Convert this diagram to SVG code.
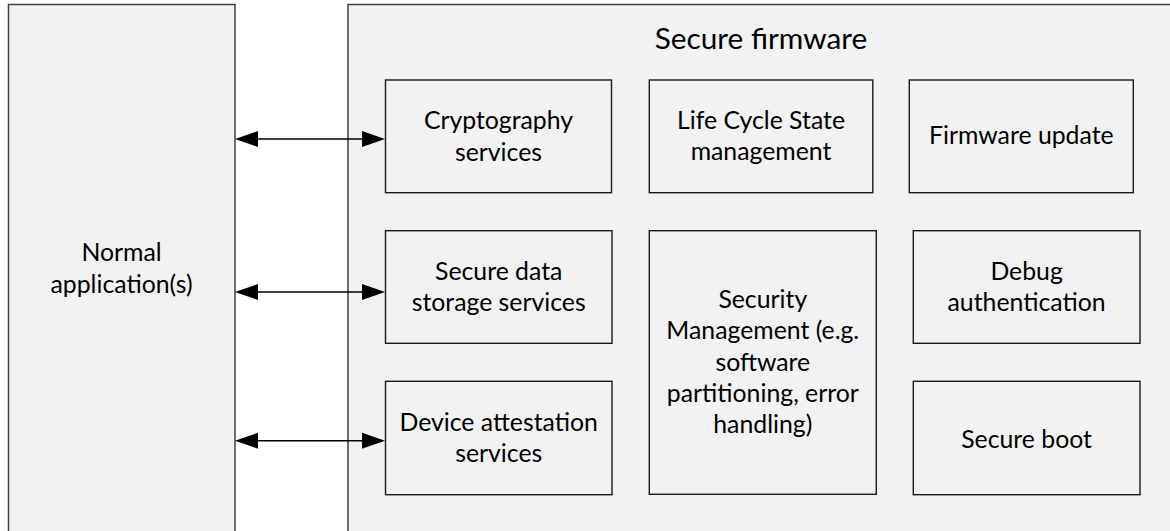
<svg xmlns="http://www.w3.org/2000/svg" width="1170" height="531" viewBox="0 0 1170 531">
  <style>
    .outer { fill: #f2f2f2; stroke: #404040; stroke-width: 1.5; }
    .box { fill: #f2f2f2; stroke: #1a1a1a; stroke-width: 1.4; }
    .label { font-family: Lato, "Liberation Sans", sans-serif; font-size: 24.8px; fill: #000; text-anchor: middle; }
    .title { font-size: 29.8px; }
    .link { stroke: #000; stroke-width: 1.5; fill: none; marker-start: url(#head); marker-end: url(#head); }
  </style>
  <defs>
    <marker id="head" markerUnits="userSpaceOnUse" markerWidth="24" markerHeight="16" refX="20" refY="8" orient="auto-start-reverse">
      <path d="M0,0 L23,8 L0,16 Z" fill="#000"/>
    </marker>
  </defs>
  <rect width="1170" height="531" fill="#fff"/>

  <!-- Normal world -->
  <g id="normal-app">
    <rect class="outer" x="8.5" y="4.5" width="226.5" height="540"/>
    <text class="label" x="121.5" y="260.5">Normal</text>
    <text class="label" x="121.5" y="292.5">application(s)</text>
  </g>

  <!-- Secure world container -->
  <g id="secure-firmware">
    <rect class="outer" x="348" y="4.5" width="840" height="540"/>
    <text class="label title" x="761" y="48.5">Secure firmware</text>
  </g>

  <g id="crypto">
    <rect class="box" x="385.5" y="80" width="226" height="112.7"/>
    <text class="label" x="498.5" y="129">Cryptography</text>
    <text class="label" x="498.5" y="160.5">services</text>
  </g>
  <g id="lifecycle">
    <rect class="box" x="649.3" y="80" width="223.5" height="112.7"/>
    <text class="label" x="761" y="128.5">Life Cycle State</text>
    <text class="label" x="761" y="160">management</text>
  </g>
  <g id="fw-update">
    <rect class="box" x="909.3" y="80" width="224" height="112.7"/>
    <text class="label" x="1021.3" y="143.5">Firmware update</text>
  </g>

  <g id="storage">
    <rect class="box" x="385.5" y="230.7" width="226.5" height="112.6"/>
    <text class="label" x="498.7" y="279.5">Secure data</text>
    <text class="label" x="498.7" y="311">storage services</text>
  </g>
  <g id="security-mgmt">
    <rect class="box" x="649.3" y="230.7" width="227" height="263.6"/>
    <text class="label" x="762.8" y="308">Security</text>
    <text class="label" x="762.8" y="339.3">Management (e.g.</text>
    <text class="label" x="762.8" y="370.6">software</text>
    <text class="label" x="762.8" y="401.9">partitioning, error</text>
    <text class="label" x="762.8" y="433.2">handling)</text>
  </g>
  <g id="debug-auth">
    <rect class="box" x="913.3" y="230.7" width="226.7" height="112.6"/>
    <text class="label" x="1026.6" y="279.5">Debug</text>
    <text class="label" x="1026.6" y="311">authentication</text>
  </g>

  <g id="attestation">
    <rect class="box" x="385.5" y="381.3" width="226.5" height="113.4"/>
    <text class="label" x="498.7" y="431">Device attestation</text>
    <text class="label" x="498.7" y="462">services</text>
  </g>
  <g id="secure-boot">
    <rect class="box" x="913.3" y="381.3" width="226.7" height="113.4"/>
    <text class="label" x="1026.6" y="447.5">Secure boot</text>
  </g>

  <!-- Calls between the normal application and the secure services -->
  <g id="connectors">
    <line class="link" x1="238" y1="139" x2="382" y2="139"/>
    <line class="link" x1="238" y1="292" x2="382" y2="292"/>
    <line class="link" x1="238" y1="440.7" x2="382" y2="440.7"/>
  </g>
</svg>
